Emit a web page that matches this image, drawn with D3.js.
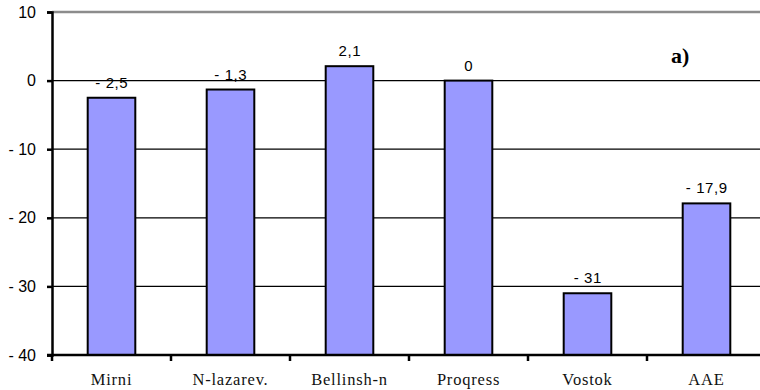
<!DOCTYPE html>
<html>
<head>
<meta charset="utf-8">
<script src="https://cdn.jsdelivr.net/npm/d3@7/dist/d3.min.js"></script>
<style>
  html, body { margin: 0; padding: 0; background: #fff; }
  svg { display: block; }
</style>
</head>
<body>
<svg id="chart" width="760" height="390"></svg>
<script>
// Stations and their values
const stations = ["Mirni", "N-lazarev.", "Bellinsh-n", "Proqress", "Vostok", "AAE"];
const values = [-2.5, -1.3, 2.1, 0, -31, -17.9];
const valueLabels = ["- 2,5", "- 1,3", "2,1", "0", "- 31", "- 17,9"];
const yTicks = [10, 0, -10, -20, -30, -40];
const yTickLabels = ["10", "0", "- 10", "- 20", "- 30", "- 40"];

const svg = d3.select("#chart");
const plotLeft = 52, plotRight = 766, plotTop = 12, plotBottom = 355;

const x = d3.scaleBand()
  .domain(stations)
  .range([plotLeft, plotRight])
  .paddingInner(0.6)
  .paddingOuter(0.3);

const y = d3.scaleLinear()
  .domain([-40, 10])
  .range([plotBottom, plotTop]);

// horizontal gridlines
svg.append("g")
  .selectAll("line")
  .data(yTicks.filter(t => t !== -40))
  .join("line")
  .attr("x1", plotLeft)
  .attr("x2", 760)
  .attr("y1", d => y(d))
  .attr("y2", d => y(d))
  .attr("stroke", d => d === 10 ? "#8c8c8c" : "#000")
  .attr("stroke-width", d => d === 10 ? 2.5 : 1.3);

// bars rise from the bottom of the axis to each value
svg.append("g")
  .selectAll("rect")
  .data(values)
  .join("rect")
  .attr("x", (d, i) => x(stations[i]))
  .attr("width", x.bandwidth())
  .attr("y", d => y(d))
  .attr("height", d => y(-40) - y(d))
  .attr("fill", "#9999ff")
  .attr("stroke", "#000")
  .attr("stroke-width", 2);

// value labels above bars
svg.append("g")
  .selectAll("text")
  .data(values)
  .join("text")
  .attr("x", (d, i) => x(stations[i]) + x.bandwidth() / 2 + 0.3)
  .attr("y", d => y(d) - 10)
  .attr("text-anchor", "middle")
  .attr("font-family", "Liberation Sans, Arial, sans-serif")
  .attr("font-size", 15)
  .attr("letter-spacing", 0.6)
  .attr("fill", "#000")
  .text((d, i) => valueLabels[i]);

// y axis
const yAxis = d3.axisLeft(y)
  .tickValues(yTicks)
  .tickSize(5)
  .tickPadding(11)
  .tickFormat((d, i) => yTickLabels[i]);

const gy = svg.append("g")
  .attr("transform", `translate(${plotLeft},0)`)
  .call(yAxis);
gy.select(".domain").attr("stroke", "#000").attr("stroke-width", 2.5);
gy.selectAll(".tick line").attr("stroke", "#000").attr("stroke-width", 2.5);
gy.selectAll(".tick text")
  .attr("font-family", "Liberation Sans, Arial, sans-serif")
  .attr("font-size", 16)
  .attr("fill", "#000");

// x axis with ticks between categories
const gx = svg.append("g").attr("transform", `translate(0,${plotBottom})`);
gx.append("line")
  .attr("x1", plotLeft - 5)
  .attr("x2", 760)
  .attr("stroke", "#000")
  .attr("stroke-width", 2.5);
const step = x.step();
gx.selectAll("line.tk")
  .data(d3.range(0, stations.length))
  .join("line")
  .attr("class", "tk")
  .attr("x1", i => plotLeft + i * step)
  .attr("x2", i => plotLeft + i * step)
  .attr("y1", 0)
  .attr("y2", 6)
  .attr("stroke", "#000")
  .attr("stroke-width", 2.5);
gx.selectAll("text")
  .data(stations)
  .join("text")
  .attr("x", d => x(d) + x.bandwidth() / 2)
  .attr("y", 30)
  .attr("text-anchor", "middle")
  .attr("font-family", "Liberation Serif, Times New Roman, serif")
  .attr("font-size", 16.5)
  .attr("letter-spacing", 0.8)
  .attr("fill", "#111")
  .text(d => d);

// panel tag
svg.append("text")
  .attr("x", 671)
  .attr("y", 63)
  .attr("font-family", "Liberation Serif, Times New Roman, serif")
  .attr("font-weight", "bold")
  .attr("font-size", 22)
  .attr("fill", "#000")
  .text("a)");
</script>
</body>
</html>
